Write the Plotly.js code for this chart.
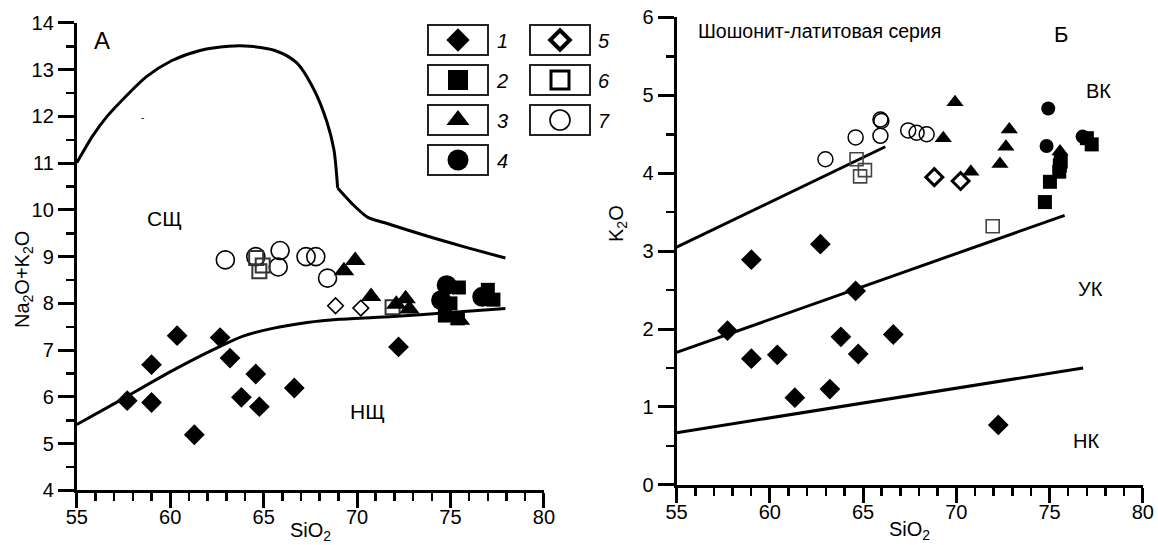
<!DOCTYPE html>
<html>
<head>
<meta charset="utf-8">
<script src="https://cdn.plot.ly/plotly-3.0.1.min.js"></script>
<style>html,body{margin:0;padding:0;background:#fff;}#chart{width:1158px;height:545px;}</style>
</head>
<body>
<div id="chart"></div>
<script>
// ---------------- DATA ----------------
// Panel A: SiO2 vs Na2O+K2O
const aG1x = [57.7, 59.0, 59.0, 60.37, 61.29, 62.67, 63.2, 63.81, 64.58, 64.77, 66.64, 72.22];
const aG1y = [5.92, 6.69, 5.88, 7.31, 5.19, 7.27, 6.83, 5.99, 6.49, 5.79, 6.19, 7.07];
const aG2x = [74.7, 75.0, 75.4, 75.45, 77.0, 77.3];
const aG2y = [7.74, 8.0, 7.68, 8.34, 8.29, 8.08];
const aG3x = [69.3, 69.9, 70.75, 72.1, 72.6, 72.8, 75.5];
const aG3y = [8.7, 8.92, 8.15, 7.98, 8.1, 7.88, 7.64];
const aG4x = [74.8, 74.5, 76.7];
const aG4y = [8.39, 8.07, 8.14];
const aG5x = [68.85, 70.2];
const aG5y = [7.95, 7.9];
const aG6x = [64.6, 64.95, 64.77, 71.9];
const aG6y = [8.97, 8.81, 8.69, 7.92];
const aG7x = [62.95, 64.58, 65.88, 65.78, 67.27, 67.79, 68.42];
const aG7y = [8.93, 9.0, 9.13, 8.78, 9.0, 9.0, 8.54];

// Panel A boundary curves
const aUpper1x = [55, 55.86, 56.62, 57.58, 58.73, 60.07, 61.6, 63.13, 64.27, 65.6, 66.76, 67.71, 68.38, 68.76, 68.96];
const aUpper1y = [11.01, 11.59, 12.0, 12.41, 12.85, 13.19, 13.41, 13.5, 13.5, 13.41, 13.15, 12.56, 11.89, 11.29, 10.47];
const aUpper2x = [68.96, 69.82, 70.58, 71.44, 73.83, 75.74, 77.94];
const aUpper2y = [10.47, 10.1, 9.84, 9.73, 9.43, 9.21, 8.97];
const aLowerx = [55, 57.2, 60.07, 62.36, 63.9, 65.42, 67.33, 69.05, 71.92, 74.79, 77.94];
const aLowery = [5.41, 5.9, 6.55, 7.02, 7.3, 7.46, 7.59, 7.66, 7.72, 7.8, 7.89];

// Panel B: SiO2 vs K2O
const bG1x = [57.73, 59.01, 59.01, 60.4, 61.34, 62.71, 63.22, 63.81, 64.6, 64.74, 66.62, 72.25];
const bG1y = [1.98, 2.89, 1.62, 1.67, 1.12, 3.09, 1.23, 1.9, 2.49, 1.68, 1.93, 0.77];
const bG2x = [74.75, 75.02, 75.52, 75.55, 75.6, 77.0, 77.26];
const bG2y = [3.63, 3.89, 4.02, 4.1, 4.15, 4.45, 4.37];
const bG3x = [69.3, 69.93, 70.78, 72.34, 72.66, 72.84, 75.56];
const bG3y = [4.45, 4.91, 4.02, 4.12, 4.34, 4.56, 4.28];
const bG4x = [74.93, 74.84, 76.77];
const bG4y = [4.83, 4.35, 4.47];
const bG5x = [68.82, 70.23];
const bG5y = [3.95, 3.9];
const bG6x = [64.65, 65.1, 64.84, 71.95];
const bG6y = [4.18, 4.04, 3.96, 3.32];
const bG7x = [62.98, 64.6, 65.93, 65.98, 65.93, 67.42, 67.87, 68.41];
const bG7y = [4.18, 4.46, 4.69, 4.67, 4.48, 4.55, 4.52, 4.5];

// Panel B series boundaries
const bLine1x = [55, 66.19];
const bLine1y = [3.05, 4.34];
const bLine2x = [55, 75.81];
const bLine2y = [1.70, 3.46];
const bLine3x = [55, 76.8];
const bLine3y = [0.67, 1.50];

// Legend labels
const legendLabels = ['1', '2', '3', '4', '5', '6', '7'];

// ---------------- STYLE / LAYOUT ----------------
const W = 1158, H = 545;
const FONT = 'Liberation Sans, Arial, sans-serif';
const px = v => v / W;
const py = v => 1 - v / H;
const A_X0 = 76.8, A_X1 = 543.9, A_YT = 22.9, A_YB = 490.4;
const B_X0 = 676.6, B_X1 = 1142.8, B_YT = 17.4, B_YB = 484.9;
const LEG_X0 = 420, LEG_X1 = 620, LEG_YT = 20, LEG_YB = 180;

function pts(x, y, ax, sym, size, filled, lw, lcol) {
  const open = /-open$/.test(sym);
  return {
    x: x, y: y, type: 'scatter', mode: 'markers', xaxis: ax[0], yaxis: ax[1],
    hoverinfo: 'skip', cliponaxis: false,
    marker: {symbol: sym, size: size, color: open ? (lcol || '#000') : '#000',
      line: {width: open ? lw : 0, color: lcol || '#000'}}
  };
}
function ln(x, y, ax, shape) {
  return {x: x, y: y, type: 'scatter', mode: 'lines', xaxis: ax[0], yaxis: ax[1], hoverinfo: 'skip',
    line: {color: '#000', width: 3, shape: shape || 'linear', smoothing: 0.8}};
}
const A = ['x', 'y'], B = ['x2', 'y2'], L = ['x3', 'y3'];

const traces = [
  ln(aUpper1x, aUpper1y, A, 'spline'),
  ln(aUpper2x, aUpper2y, A, 'spline'),
  ln(aLowerx, aLowery, A, 'spline'),
  pts(aG7x, aG7y, A, 'circle-open', 18, false, 1.6),
  pts(aG6x, aG6y, A, 'square-open', 14, false, 2, '#333'),
  pts(aG5x, aG5y, A, 'diamond-open', 12, false, 1.6),
  pts(aG1x, aG1y, A, 'diamond', 16, true),
  pts(aG3x, aG3y, A, 'triangle-up', 18, true),
  pts(aG4x, aG4y, A, 'circle', 20, true),
  pts(aG2x, aG2y, A, 'square', 14, true),
  ln(bLine1x, bLine1y, B), ln(bLine2x, bLine2y, B), ln(bLine3x, bLine3y, B),
  pts(bG7x, bG7y, B, 'circle-open', 15, false, 1.5),
  pts(bG6x, bG6y, B, 'square-open', 13, false, 1.6, '#444'),
  pts(bG5x, bG5y, B, 'diamond-open', 13, false, 3),
  pts(bG1x, bG1y, B, 'diamond', 16, true),
  pts(bG3x, bG3y, B, 'triangle-up', 15, true),
  pts(bG4x, bG4y, B, 'circle', 14, true),
  pts(bG2x, bG2y, B, 'square', 14, true)
];

// Custom boxed legend
const legCfg = [
  {col: 0, row: 0, sym: 'diamond', size: 18},
  {col: 0, row: 1, sym: 'square', size: 20},
  {col: 0, row: 2, sym: 'triangle-up', size: 20},
  {col: 0, row: 3, sym: 'circle', size: 21},
  {col: 1, row: 0, sym: 'diamond-open', size: 15, lw: 4},
  {col: 1, row: 1, sym: 'square-open', size: 18, lw: 3},
  {col: 1, row: 2, sym: 'circle-open', size: 20, lw: 1.6}
];
const colX0 = [428, 530], boxW = 60, rowY = [40, 80, 120, 160], boxH = 30;
const shapes = [], annotations = [];
legCfg.forEach((c, i) => {
  const x0 = colX0[c.col];
  shapes.push({type: 'rect', xref: 'paper', yref: 'paper', x0: px(x0), x1: px(x0 + boxW),
    y0: py(rowY[c.row] - boxH / 2), y1: py(rowY[c.row] + boxH / 2), line: {color: '#222', width: 2}, layer: 'above'});
  traces.push(pts([x0 + boxW / 2], [rowY[c.row]], L, c.sym, c.size, !/-open$/.test(c.sym), c.lw));
  annotations.push({xref: 'paper', yref: 'paper', x: px(x0 + boxW + 14), y: py(rowY[c.row] + 1),
    text: '<i>' + legendLabels[i] + '</i>', showarrow: false, xanchor: 'center', yanchor: 'middle',
    font: {family: FONT, size: 20, color: '#000'}});
});

function txt(xr, yr, x, y, t, size, anchor) {
  return {xref: xr, yref: yr, x: x, y: y, text: t, showarrow: false, xanchor: anchor || 'center', yanchor: 'middle',
    font: {family: FONT, size: size, color: '#000'}};
}
annotations.push(
  txt('x', 'y', 56.33, 13.63, 'А', 24),
  txt('x', 'y', 59.68, 9.81, 'СЩ', 21),
  txt('x', 'y', 70.58, 5.68, 'НЩ', 21),
  txt('x', 'y', 58.54, 11.98, '-', 10),
  txt('x2', 'y2', 56.04, 5.82, 'Шошонит-латитовая серия', 19.5, 'left'),
  txt('x2', 'y2', 75.61, 5.78, 'Б', 22),
  txt('x2', 'y2', 77.65, 5.05, 'ВК', 20),
  txt('x2', 'y2', 77.19, 2.52, 'УК', 20),
  txt('x2', 'y2', 76.94, 0.56, 'НК', 20),
  Object.assign(txt('paper', 'paper', px(23), py(280), 'Na<sub>2</sub>O+K<sub>2</sub>O', 20), {textangle: -90}),
  Object.assign(txt('paper', 'paper', px(617), py(224), 'K<sub>2</sub>O', 20), {textangle: -90}),
  txt('paper', 'paper', px(310.4), py(531), 'SiO<sub>2</sub>', 20),
  txt('paper', 'paper', px(909.7), py(530), 'SiO<sub>2</sub>', 20)
);

function xax(dom, anchor) {
  return {domain: dom, anchor: anchor, range: [55, 80], tick0: 55, dtick: 5, ticks: 'outside', ticklen: 15, tickwidth: 3,
    tickcolor: '#000', showline: true, linewidth: 3, linecolor: '#000', showgrid: false, zeroline: false,
    ticklabelstandoff: -8,
    tickfont: {family: FONT, size: 20, color: '#000'}, fixedrange: true,
    minor: {dtick: 1, ticks: 'outside', ticklen: 8, tickwidth: 2.5, tickcolor: '#000', showgrid: false}};
}
function yax(dom, anchor, range) {
  return {domain: dom, anchor: anchor, range: range, dtick: 1, ticks: 'outside', ticklen: 16, tickwidth: 3,
    tickcolor: '#000', showline: true, linewidth: 3, linecolor: '#000', showgrid: false, zeroline: false,
    tickfont: {family: FONT, size: 20, color: '#000'}, fixedrange: true,
    minor: {dtick: 0.5, ticks: 'outside', ticklen: 8, tickwidth: 2.5, tickcolor: '#000', showgrid: false}};
}

const layout = {
  width: W, height: H, margin: {l: 0, r: 0, t: 0, b: 0}, showlegend: false,
  paper_bgcolor: '#fff', plot_bgcolor: 'rgba(0,0,0,0)',
  font: {family: FONT, color: '#000'},
  xaxis: xax([px(A_X0), px(A_X1)], 'y'),
  yaxis: yax([py(A_YB), py(A_YT)], 'x', [4, 14]),
  xaxis2: xax([px(B_X0), px(B_X1)], 'y2'),
  yaxis2: yax([py(B_YB), py(B_YT)], 'x2', [0, 6]),
  xaxis3: {domain: [px(LEG_X0), px(LEG_X1)], anchor: 'y3', range: [LEG_X0, LEG_X1], visible: false, fixedrange: true},
  yaxis3: {domain: [py(LEG_YB), py(LEG_YT)], anchor: 'x3', range: [LEG_YB, LEG_YT], visible: false, fixedrange: true},
  shapes: shapes, annotations: annotations
};

Plotly.newPlot('chart', traces, layout, {staticPlot: true, displayModeBar: false});
</script>
</body>
</html>
